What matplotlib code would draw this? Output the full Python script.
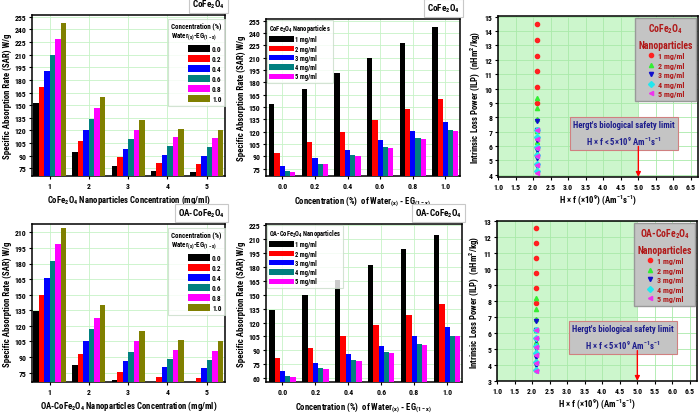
import matplotlib
matplotlib.use('Agg')
import matplotlib.pyplot as plt
import numpy as np
from matplotlib.lines import Line2D

plt.rcParams['font.family'] = ['Roboto Condensed', 'Liberation Sans Narrow',
                               'Liberation Sans', 'DejaVu Sans']
plt.rcParams['font.weight'] = 'bold'
plt.rcParams['axes.labelweight'] = 'bold'
plt.rcParams['mathtext.default'] = 'regular'

# ---------------- data ----------------
np_conc = [1, 2, 3, 4, 5]
np_labels = ['1 mg/ml', '2 mg/ml', '3 mg/ml', '4 mg/ml', '5 mg/ml']
water_frac = [0.0, 0.2, 0.4, 0.6, 0.8, 1.0]
water_labels = ['0.0', '0.2', '0.4', '0.6', '0.8', '1.0']

# SAR (W/g) of CoFe2O4, one list per NP concentration, values over water fraction
sar_cofe_1 = [153, 172, 191, 210, 228, 247]
sar_cofe_2 = [94, 107, 120, 134, 147, 160]
sar_cofe_3 = [78, 88, 98, 110, 121, 132]
sar_cofe_4 = [72, 81, 91, 101, 112, 122]
sar_cofe_5 = [71, 80, 90, 100, 111, 121]

# SAR (W/g) of OA-CoFe2O4
sar_oa_1 = [134, 150, 166, 182, 199, 214]
sar_oa_2 = [82, 93, 105, 117, 128, 140]
sar_oa_3 = [68, 76, 86, 95, 105, 115]
sar_oa_4 = [62, 71, 80, 88, 97, 106]
sar_oa_5 = [61, 70, 79, 87, 96, 105]

# ILP (nHm^2/kg) of CoFe2O4
ilp_cofe_1 = [9.0, 10.1, 11.2, 12.3, 13.4, 14.5]
ilp_cofe_2 = [5.5, 6.3, 7.05, 7.9, 8.65, 9.35]
ilp_cofe_3 = [4.6, 5.2, 5.75, 6.45, 7.1, 7.75]
ilp_cofe_4 = [4.25, 4.75, 5.35, 5.95, 6.6, 7.15]
ilp_cofe_5 = [4.15, 4.7, 5.3, 5.9, 6.5, 7.1]

# ILP (nHm^2/kg) of OA-CoFe2O4
ilp_oa_1 = [7.85, 8.8, 9.75, 10.7, 11.65, 12.6]
ilp_oa_2 = [4.8, 5.45, 6.15, 6.85, 7.5, 8.2]
ilp_oa_3 = [4.0, 4.45, 5.05, 5.55, 6.15, 6.75]
ilp_oa_4 = [3.65, 4.15, 4.7, 5.15, 5.7, 6.2]
ilp_oa_5 = [3.6, 4.1, 4.6, 5.1, 5.65, 6.15]

h_f_value = 2.12   # H x f of the experiment (x10^9 A m^-1 s^-1)
hergt_limit = 5.0

cofe_rows = [sar_cofe_1, sar_cofe_2, sar_cofe_3, sar_cofe_4, sar_cofe_5]
oa_rows = [sar_oa_1, sar_oa_2, sar_oa_3, sar_oa_4, sar_oa_5]
ilp_cofe = [ilp_cofe_1, ilp_cofe_2, ilp_cofe_3, ilp_cofe_4, ilp_cofe_5]
ilp_oa = [ilp_oa_1, ilp_oa_2, ilp_oa_3, ilp_oa_4, ilp_oa_5]

# ---------------- styles ----------------
colors6 = ['#000000', '#ff0000', '#0000ff', '#008080', '#ff00ff', '#808000']
colors5 = colors6[:5]
sc_colors = ['#ff2020', '#33ee33', '#1010cc', '#22e6ee', '#ee33ee']
sc_markers = ['o', '^', 'v', 'D', '<']
grid_col = '#c6f2c6'
TICK = 5.6
LAB = 6.3
darkred = '#b01818'
navy = '#1c1c8c'

fig = plt.figure(figsize=(7.0, 4.14), dpi=100)
W, H = 700.0, 414.0


def add_ax(l, r, t, b):
    return fig.add_axes([l / W, 1 - b / H, (r - l) / W, (b - t) / H])


def style_ax(ax):
    for s in ax.spines.values():
        s.set_linewidth(1.1)
    ax.tick_params(labelsize=TICK, width=0.8, length=2.5, pad=1.5)
    ax.grid(True, color=grid_col, lw=0.6, zorder=0)
    ax.set_axisbelow(True)


def title_box(ax, txt):
    ax.text(1.0, 1.03, txt, transform=ax.transAxes, ha='right', va='bottom',
            fontsize=6.6, fontweight='bold',
            bbox=dict(facecolor='white', edgecolor='#c8c8c8', lw=0.8,
                      boxstyle='square,pad=0.35'))


def bar_by_np(ax, rows, ylim, yticks, title, xlabel):
    width = 0.14
    for j in range(len(water_frac)):
        vals = [rows[i][j] for i in range(len(np_conc))]
        xs = np.array(np_conc) + (j - 2.5) * width
        ax.bar(xs, vals, width, color=colors6[j], label=water_labels[j], zorder=3)
    ax.set_xlim(0.55, 5.47)
    ax.set_ylim(*ylim)
    ax.set_xticks(np_conc)
    ax.set_yticks(yticks)
    style_ax(ax)
    ax.set_ylabel('Specific Absorption Rate (SAR) W/g', fontsize=LAB, labelpad=2)
    ax.set_xlabel(xlabel, fontsize=LAB, labelpad=3)
    leg = ax.legend(title='Concentration (%)\nWater$_{(x)}$-EG$_{(1-x)}$',
                    loc='upper right', fontsize=5.2, title_fontsize=5.0,
                    handlelength=3.0, handleheight=1.1, handletextpad=0.3,
                    labelspacing=0.3, borderpad=0.4, fancybox=False,
                    bbox_to_anchor=(1.005, 0.985), borderaxespad=0.2)
    leg.get_frame().set_edgecolor('#c8dcc8')
    leg.get_frame().set_linewidth(0.8)
    leg._legend_box.align = 'right'
    title_box(ax, title)


def bar_by_water(ax, rows, ylim, yticks, title, legtitle):
    width = 0.032
    for i in range(len(np_conc)):
        xs = np.array(water_frac) + (i - 2) * width
        ax.bar(xs, rows[i], width, color=colors5[i], label=np_labels[i], zorder=3)
    ax.set_xlim(-0.1, 1.09)
    ax.set_ylim(*ylim)
    ax.set_xticks(water_frac)
    ax.set_xticklabels(water_labels)
    ax.set_yticks(yticks)
    style_ax(ax)
    ax.set_ylabel('Specific Absorption Rate (SAR) W/g', fontsize=LAB, labelpad=2)
    ax.set_xlabel('Concentration (%)  of Water$_{(x)}$ - EG$_{(1-x)}$',
                  fontsize=LAB, labelpad=3)
    leg = ax.legend(title=legtitle, loc='upper left', fontsize=4.7,
                    title_fontsize=4.7, handlelength=3.8, handleheight=0.9,
                    handletextpad=0.15, labelspacing=0.2, borderpad=0.35,
                    fancybox=False, borderaxespad=0.1)
    leg.get_frame().set_edgecolor('#c8dcc8')
    leg.get_frame().set_linewidth(0.8)
    leg._legend_box.align = 'left'
    title_box(ax, title)


def ilp_panel(ax, series, ylim, yticks, name):
    ax.axvspan(1.0, hergt_limit, color='#ccf6cc', zorder=0, lw=0)
    handles = []
    for i in range(len(np_conc)):
        ax.plot([h_f_value] * len(series[i]), series[i], linestyle='none',
                marker=sc_markers[i], color=sc_colors[i], ms=3.0, zorder=3)
        handles.append(Line2D([], [], linestyle='none', marker=sc_markers[i],
                              color=sc_colors[i], ms=3.0, label=np_labels[i]))
    ax.set_xlim(1.0, 6.7)
    ax.set_ylim(*ylim)
    ax.set_xticks(np.arange(1.0, 6.51, 0.5))
    ax.set_xticklabels(['%.1f' % v for v in np.arange(1.0, 6.51, 0.5)])
    ax.set_yticks(yticks)
    style_ax(ax)
    ax.grid(True, color='#a9eaa9', lw=0.6, zorder=1)
    ax.set_ylabel('Intrinsic Loss Power (ILP)  (nHm$^2$/kg)', fontsize=LAB, labelpad=2)
    ax.set_xlabel('H × f (×10$^9$) (Am$^{-1}$s$^{-1}$)', fontsize=LAB, labelpad=2)
    leg = ax.legend(handles=handles, title=name + '\nNanoparticles',
                    loc='upper right', fontsize=5.8, title_fontsize=7.0,
                    handletextpad=0.3, labelspacing=0.3, borderpad=0.45,
                    fancybox=False, borderaxespad=0.2, handlelength=1.2,
                    facecolor='#c4c4c4', framealpha=1.0)
    leg.get_frame().set_edgecolor('#999999')
    leg.get_title().set_color(darkred)
    leg.get_title().set_multialignment('center')
    leg.get_title().set_linespacing(1.6)
    for t in leg.get_texts():
        t.set_color(darkred)
    ax.text(0.63, 0.27,
            "Hergt's biological safety limit\nH × f < 5×10$^9$ Am$^{-1}$s$^{-1}$",
            transform=ax.transAxes, ha='center', va='center', fontsize=6.2,
            color=navy, fontweight='bold', linespacing=1.5, zorder=5,
            bbox=dict(facecolor='#c4c4c4', edgecolor='#d08080', lw=0.8,
                      boxstyle='square,pad=0.35'))
    ax.annotate('', xy=(hergt_limit, 0.0), xytext=(hergt_limit, 0.19),
                xycoords=('data', 'axes fraction'),
                textcoords=('data', 'axes fraction'),
                arrowprops=dict(arrowstyle='-|>', color='#ff0000', lw=1.0,
                                mutation_scale=7, shrinkA=0, shrinkB=0),
                zorder=6)


ax1 = add_ax(32, 225, 16, 177)
bar_by_np(ax1, cofe_rows, (66, 257), np.arange(75, 256, 15), 'CoFe$_2$O$_4$',
          'CoFe$_2$O$_4$ Nanoparticles Concentration (mg/ml)')

ax2 = add_ax(266, 460, 20, 177)
bar_by_water(ax2, cofe_rows, (66, 257), np.arange(75, 256, 15), 'CoFe$_2$O$_4$',
             'CoFe$_2$O$_4$ Nanoparticles')

ax3 = add_ax(498, 698, 17, 178)
ilp_panel(ax3, ilp_cofe, (3.85, 15.05), np.arange(4, 16, 1), 'CoFe$_2$O$_4$')

ax4 = add_ax(32, 225, 225, 383)
bar_by_np(ax4, oa_rows, (66, 218), np.arange(75, 211, 15), 'OA-CoFe$_2$O$_4$',
          'OA-CoFe$_2$O$_4$ Nanoparticles Concentration (mg/ml)')

ax5 = add_ax(266, 462, 225, 383)
bar_by_water(ax5, oa_rows, (56, 226), np.arange(60, 226, 15), 'OA-CoFe$_2$O$_4$',
             'OA-CoFe$_2$O$_4$ Nanoparticles')

ax6 = add_ax(497, 697, 222, 382)
ilp_panel(ax6, ilp_oa, (2.97, 13.03), np.arange(3, 14, 1), 'OA-CoFe$_2$O$_4$')

fig.savefig('out.png', dpi=100)
